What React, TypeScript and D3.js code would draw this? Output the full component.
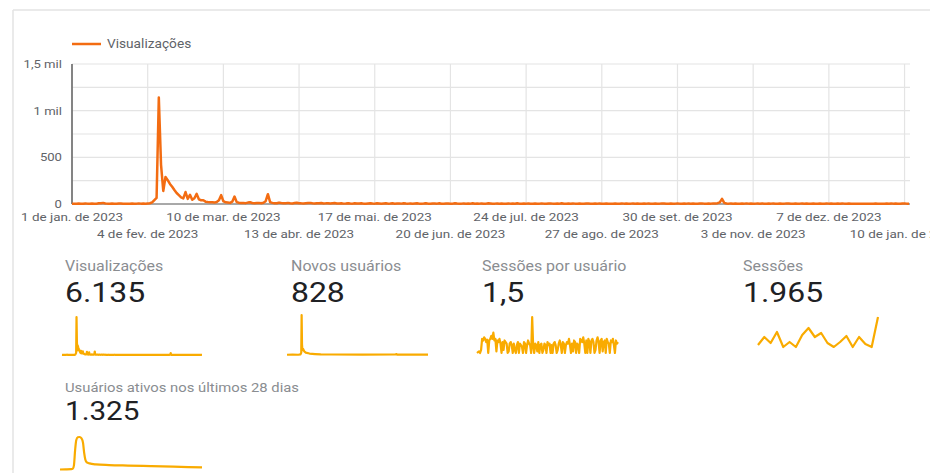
import React from "react";
import * as d3 from "d3";

// ---- Daily "Visualizações" (views), 1 Jan 2023 .. 12 Jan 2024 ----
const jan23 = [3,2,4,5,3,2,6,4,3,5,4,3,7,8,12,6,4,3,5,4,3,6,5,4,3,2,4,5,3,4,6];
const feb23 = [4,5,3,6,8,18,42,65,1140,420,140,290,255,215,185,150,118,95,72,60,128,55,98,45,62,108,50,40];
const mar23 = [40,25,22,20,18,15,22,40,95,30,18,15,12,25,80,20,14,10,12,9,15,18,11,8,10,12,9,14,30,105,20];
const apr23 = [12,9,8,15,10,7,9,12,8,6,10,14,9,7,6,8,10,12,7,5,9,8,11,6,7,9,5,8,10,6];
const may23 = [5,7,4,6,9,5,4,8,6,5,7,4,3,6,8,5,4,7,5,3,6,9,4,5,7,3,5,6,4,8,5];
const jun23 = [4,6,3,5,7,4,3,5,8,4,3,6,5,4,7,3,4,5,6,3,4,8,5,3,4,6,3,5,4,7];
const jul23 = [3,5,4,6,3,4,7,5,3,4,6,3,5,4,3,6,4,5,3,7,4,3,5,4,6,3,4,5,3,4,6];
const aug23 = [4,3,5,6,4,3,5,4,7,3,4,5,3,6,4,3,5,4,3,6,5,4,3,5,4,6,3,4,5,3,4];
const sep23 = [3,5,4,3,6,4,5,3,4,6,3,5,4,3,5,4,6,3,4,5,3,4,6,5,3,4,5,3,4,6];
const oct23 = [4,3,5,4,6,3,5,4,3,5,6,4,3,5,4,6,5,9,18,55,12,5,4,6,3,5,4,3,5,4,6];
const nov23 = [4,5,3,4,6,3,5,4,3,5,4,6,3,4,5,3,4,6,5,3,4,5,3,4,6,3,5,4,3,5];
const dec23 = [4,3,5,4,3,6,4,5,3,4,5,3,6,4,3,5,4,3,2,4,3,2,3,4,2,3,4,5,3,4,3];
const jan24 = [4,5,3,6,4,5,3,4,5,6,4,3];
const views = [...jan23, ...feb23, ...mar23, ...apr23, ...may23, ...jun23, ...jul23, ...aug23, ...sep23, ...oct23, ...nov23, ...dec23, ...jan24];

const startDate = Date.UTC(2023, 0, 1);
const endDate = Date.UTC(2024, 0, 12);

// ---- axes ----
const xTickDates = ["2023-01-01","2023-02-04","2023-03-10","2023-04-13","2023-05-17","2023-06-20","2023-07-24","2023-08-27","2023-09-30","2023-11-03","2023-12-07","2024-01-10"];
const xTickLabels = ["1 de jan. de 2023","4 de fev. de 2023","10 de mar. de 2023","13 de abr. de 2023","17 de mai. de 2023","20 de jun. de 2023","24 de jul. de 2023","27 de ago. de 2023","30 de set. de 2023","3 de nov. de 2023","7 de dez. de 2023","10 de jan. de 2024"];
const yGridValues = [0,250,500,750,1000,1250,1500];
const yTickValues = [0,500,1000,1500];
const yTickLabels = ["0","500","1 mil","1,5 mil"];

// ---- scorecards ----
const cardTitles = ["Visualizações","Novos usuários","Sessões por usuário","Sessões","Usuários ativos nos últimos 28 dias"];
const cardValues = ["6.135","828","1,5","1.965","1.325"];

// sparkline series
const newUsersPts: [number, number][] = [[0,2],[15,3],[30,2],[36,5],[38,20],[39,330],[40,90],[41,40],[43,50],[46,30],[50,20],[60,12],[75,8],[90,5],[120,4],[200,3],[290,4],[292,8],[294,3],[376,3]];
const sessionsPerUser = [1.0,1.05,1.1,1.0,1.2,
  1.9,1.8,2.0,1.9,1.7,1.85,1.0,1.8,1.9,2.1,1.9,2.3,1.8,1.9,1.1,1.8,1.7,1.9,1.6,1.0,1.7,1.2,1.8,1.7,1.6,1.0,1.1,1.6,1.7,1.5,1.0,1.6,1.2,1.0,1.5,1.7,1.0,1.6,1.5,1.4,1.0,1.7,1.6,1.0,1.5,1.8,1.6,
  1.5,1.0,3.3,1.4,1.0,1.6,1.5,1.1,1.7,1.0,1.5,1.6,1.0,1.2,1.6,1.5,1.0,1.7,1.5,1.6,1.0,1.5,1.0,1.6,1.7,1.5,1.0,1.2,1.6,1.8,1.5,1.0,1.7,1.6,1.0,1.5,1.7,1.6,1.9,1.5,1.0,1.6,1.1,1.8,1.7,1.0,1.6,1.5,1.0,1.9,1.8,1.7,2.0,1.6,1.0,1.8,1.0,1.9,1.7,1.0,1.8,1.9,1.7,1.0,1.2,1.8,2.0,1.7,1.0,1.8,1.9,1.1,1.7,1.8,1.0,1.9,1.7,1.6,1.0,1.8,1.7,1.9,1.5,1.0,1.8,1.6,1.7];
const sessions = [88,120,96,140,80,100,80,128,156,120,136,96,80,100,124,80,120,92,80,200];
const active28Pts: [number, number][] = [[0,15],[15,18],[30,25],[34,40],[37,150],[40,600],[43,900],[47,990],[52,1000],[57,960],[61,820],[64,520],[67,320],[71,230],[78,200],[95,170],[130,150],[180,135],[240,120],[300,105],[340,90],[376,80]];

const ORANGE = "#f36c12";
const SPARK = "#f9ab00";
const FONT = "Roboto, 'Noto Sans', sans-serif";
const SX = 1.14;

function T({ x, y, size, fill, anchor = "start", weight = 400, children }: any) {
  return (
    <text transform={`translate(${x},${y}) scale(${SX},1)`} fontSize={size} fill={fill}
      textAnchor={anchor} fontFamily={FONT} fontWeight={weight}>{children}</text>
  );
}

export default function App() {
  const x = d3.scaleUtc().domain([startDate, endDate]).range([72, 909]);
  const y = d3.scaleLinear().domain([0, 1500]).range([204, 64]);
  const dayDate = (i: number) => startDate + i * 86400000;
  const mainLine = d3.line<number>().x((d, i) => x(dayDate(i))).y(d => y(d))(views) || "";

  const vx = d3.scaleLinear().domain([0, views.length - 1]).range([62, 202]);
  const vy = d3.scaleLinear().domain([0, d3.max(views)!]).range([355, 317]);
  const vPath = d3.line<number>().x((d, i) => vx(i)).y(d => vy(d))(views) || "";

  const nx = d3.scaleLinear().domain([0, 376]).range([287, 428]);
  const ny = d3.scaleLinear().domain([0, d3.max(newUsersPts, d => d[1])!]).range([355, 315]);
  const nPath = d3.line<[number, number]>().x(d => nx(d[0])).y(d => ny(d[1]))(newUsersPts) || "";

  const sx = d3.scaleLinear().domain([0, sessionsPerUser.length - 1]).range([477, 618]);
  const sy = d3.scaleLinear().domain(d3.extent(sessionsPerUser) as [number, number]).range([353, 317]);
  const sPath = d3.line<number>().x((d, i) => sx(i)).y(d => sy(d))(sessionsPerUser) || "";

  const ssx = d3.scaleLinear().domain([0, sessions.length - 1]).range([758, 878]);
  const ssy = d3.scaleLinear().domain(d3.extent(sessions) as [number, number]).range([347, 317]);
  const ssPath = d3.line<number>().x((d, i) => ssx(i)).y(d => ssy(d))(sessions) || "";

  const ax = d3.scaleLinear().domain([0, 376]).range([60, 202]);
  const ay = d3.scaleLinear().domain([0, d3.max(active28Pts, d => d[1])!]).range([470, 437]);
  const aPath = d3.line<[number, number]>().x(d => ax(d[0])).y(d => ay(d[1])).curve(d3.curveMonotoneX)(active28Pts) || "";

  const cards = [
    { lx: 65, ly: 271, vy: 302, vs: 28, ls: 14, path: vPath },
    { lx: 291, ly: 271, vy: 302, vs: 28, ls: 14, path: nPath },
    { lx: 482, ly: 271, vy: 302, vs: 28, ls: 14, path: sPath },
    { lx: 743, ly: 271, vy: 302, vs: 28, ls: 14, path: ssPath },
    { lx: 65, ly: 392, vy: 420, vs: 26, ls: 13, path: aPath },
  ];

  return (
    <svg width={930} height={473} style={{ position: "absolute", left: 0, top: 0, display: "block", background: "#fff" }}>
      <line x1={13} x2={935} y1={10} y2={10} stroke="#e3e3e3" strokeWidth={1.5} />
      <line x1={13} x2={13} y1={10} y2={480} stroke="#e3e3e3" strokeWidth={1.5} />

      <line x1={72} x2={101} y1={44} y2={44} stroke={ORANGE} strokeWidth={2.5} />
      <T x={107} y={48} size={12} fill="#5f6368">Visualizações</T>

      {yGridValues.map(v => (
        <line key={"h" + v} x1={72} x2={910} y1={y(v)} y2={y(v)} stroke="#e4e4e4" strokeWidth={1.2} />
      ))}
      {xTickDates.map(d => {
        const xv = x(new Date(d + "T00:00:00Z"));
        return <line key={"v" + d} x1={xv} x2={xv} y1={y(1500)} y2={y(0)} stroke="#e4e4e4" strokeWidth={1.2} />;
      })}

      {yTickValues.map((v, i) => (
        <T key={"yl" + v} x={62} y={y(v) + 4} size={11.5} fill="#5f6368" anchor="end">{yTickLabels[i]}</T>
      ))}

      {xTickDates.map((d, i) => (
        <T key={"xl" + d} x={x(new Date(d + "T00:00:00Z"))} y={i % 2 === 0 ? 221 : 238} size={11.8} fill="#5f6368" anchor="middle">{xTickLabels[i]}</T>
      ))}

      <line x1={72} x2={72} y1={y(1500)} y2={y(0)} stroke="#616161" strokeWidth={1.5} />
      <line x1={72} x2={910} y1={y(0)} y2={y(0)} stroke="#616161" strokeWidth={1} />

      <path d={mainLine} fill="none" stroke={ORANGE} strokeWidth={2.5} strokeLinejoin="round" />

      {cards.map((c, i) => (
        <g key={"card" + i}>
          <T x={c.lx} y={c.ly} size={c.ls} fill="#8a8d91">{cardTitles[i]}</T>
          <T x={c.lx} y={c.vy} size={c.vs} fill="#202124">{cardValues[i]}</T>
          <path d={c.path} fill="none" stroke={SPARK} strokeWidth={2.2} strokeLinejoin="round" />
        </g>
      ))}
    </svg>
  );
}
